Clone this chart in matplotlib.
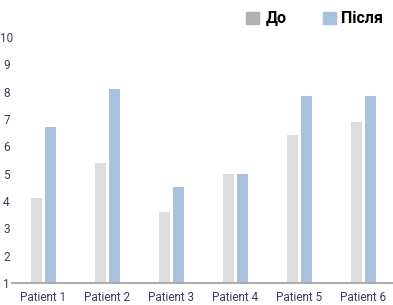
import matplotlib
matplotlib.use('Agg')
import matplotlib.pyplot as plt
from matplotlib.patches import Patch
import numpy as np

patients = ['Patient 1', 'Patient 2', 'Patient 3', 'Patient 4', 'Patient 5', 'Patient 6']
before = [4.1, 5.4, 3.6, 5.0, 6.4, 6.9]
after = [6.7, 8.1, 4.5, 5.0, 7.85, 7.85]
y_ticks = [1, 2, 3, 4, 5, 6, 7, 8, 9, 10]
series_labels = ['До', 'Після']

fig = plt.figure(figsize=(3.93, 3.05), dpi=100)
ax = fig.add_axes([12 / 393, 22 / 305, 381 / 393, 246 / 305])

x = np.arange(len(patients))
w = 0.17
ax.bar(x - 0.11, before, w, bottom=0, color='#dcdde1', zorder=2)
ax.bar(x + 0.11, after, w, bottom=0, color='#a8c1df', zorder=2)

ax.set_xlim(-0.492, 5.461)
ax.set_ylim(1, 10)
ax.set_yticks(y_ticks)
ax.set_xticks(x)
ax.set_xticklabels(patients)

label_color = '#3b3e5a'
for s in ['top', 'right', 'left']:
    ax.spines[s].set_visible(False)
ax.spines['bottom'].set_color('#a9a9a9')
ax.spines['bottom'].set_linewidth(1.4)
ax.tick_params(axis='both', length=0, colors=label_color, labelsize=8.5)
ax.tick_params(axis='x', pad=6)
ax.tick_params(axis='y', pad=4)
for t in ax.get_yticklabels():
    t.set_horizontalalignment('center')
for t in ax.get_xticklabels() + ax.get_yticklabels():
    t.set_fontfamily('Roboto')
    t.set_color(label_color)

# legend built by hand so the squares sit where the reference has them
fig.patches.append(plt.Rectangle((246 / 393, 1 - 24 / 305), 13 / 393, 12 / 305,
                                 transform=fig.transFigure, color='#b1b1b1'))
fig.patches.append(plt.Rectangle((323 / 393, 1 - 24 / 305), 13 / 393, 12 / 305,
                                 transform=fig.transFigure, color='#a8c1df'))
legend_font = {'family': 'Roboto', 'weight': 'bold', 'size': 11.5}
fig.text(266 / 393, 1 - 18.5 / 305, series_labels[0], va='center', ha='left', **legend_font)
fig.text(341 / 393, 1 - 18.5 / 305, series_labels[1], va='center', ha='left', **legend_font)

fig.savefig('out.png', dpi=100)
